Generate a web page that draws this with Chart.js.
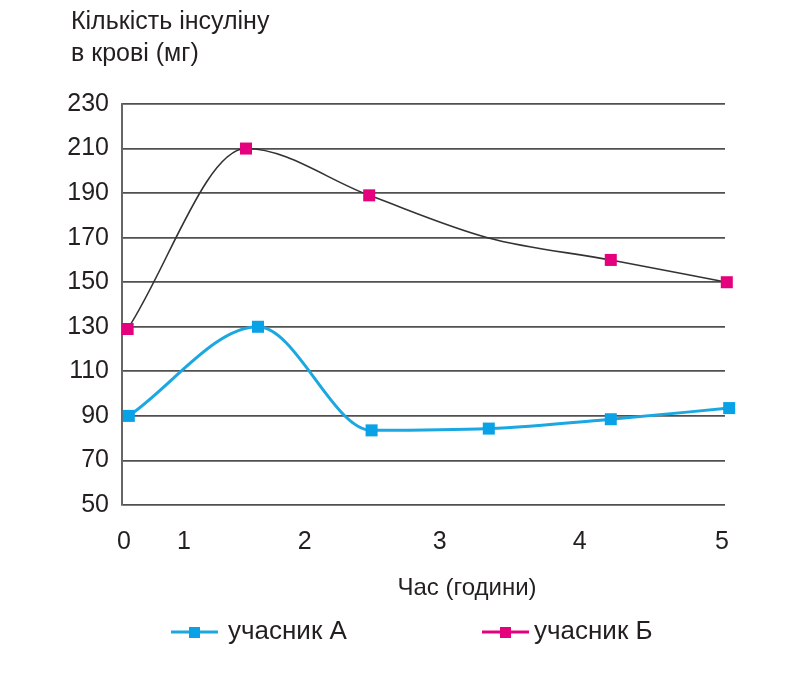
<!DOCTYPE html>
<html>
<head>
<meta charset="utf-8">
<script src="https://cdn.jsdelivr.net/npm/chart.js@4.4.1/dist/chart.umd.min.js"></script>
<style>
  html, body { margin: 0; background: #fff; }
  #wrap { width: 800px; height: 678px; }
</style>
</head>
<body>
<div id="wrap"><canvas id="chart"></canvas></div>
<script>
// values
const hoursA = [0.04, 1.12, 2.07, 3.05, 4.07, 5.06];
const insulinA = [90, 130, 83.5, 84.3, 88.5, 93.5];
const hoursB = [0.03, 1.02, 2.05, 3.04, 4.07, 5.04];
const insulinB = [129, 210, 189, 170, 160, 150];
const markerB = [true, true, true, false, true, true];

const xTickLabels = ['0', '1', '2', '3', '4', '5'];
const xTickAt = [0, 0.5, 1.51, 2.64, 3.81, 5];   // where the labels sit on the original axis

const seriesNames = ['учасник А', 'учасник Б'];
const yTitle = ['Кількість інсуліну', 'в крові (мг)'];
const xTitle = 'Час (години)';

const textColor = '#231f20';
const font = '"Liberation Sans", Arial, sans-serif';

Chart.defaults.font.family = font;
Chart.defaults.color = textColor;

// titles + legend drawn straight on the canvas
const extras = {
    id: 'extras',
    afterDraw(chart) {
        const ctx = chart.ctx;
        const area = chart.chartArea;
        ctx.save();
        ctx.fillStyle = textColor;
        ctx.textBaseline = 'middle';
        ctx.font = '25px ' + font;
        ctx.textAlign = 'left';
        ctx.fillText(yTitle[0], 71, 22);
        ctx.fillText(yTitle[1], 71, 54);

        ctx.font = '24px ' + font;
        ctx.textAlign = 'center';
        ctx.fillText(xTitle, area.left + 345, area.bottom + 83);

        // legend
        const items = [{ x: 171, gap: 10 }, { x: 482, gap: 5 }];
        const y = area.bottom + 127;
        ctx.font = '26px ' + font;
        ctx.textAlign = 'left';
        chart.data.datasets.forEach((ds, i) => {
            const it = items[i];
            ctx.strokeStyle = ds.legendLine;
            ctx.lineWidth = 3;
            ctx.beginPath();
            ctx.moveTo(it.x, y);
            ctx.lineTo(it.x + 47, y);
            ctx.stroke();
            ctx.fillStyle = ds.pointBackgroundColor;
            ctx.fillRect(it.x + 18, y - 5, 11, 11);
            ctx.fillStyle = textColor;
            ctx.fillText(seriesNames[i], it.x + 47 + it.gap, y);
        });
        ctx.restore();
    }
};

const ctx = document.getElementById('chart').getContext('2d');

const myChart = new Chart(ctx, {
    type: 'line',
    data: {
        datasets: [
            {
                label: seriesNames[0],
                data: hoursA.map((h, i) => ({ x: h, y: insulinA[i] })),
                borderColor: '#1ba8e0',
                borderWidth: 3,
                legendLine: '#1ba8e0',
                pointStyle: 'rect',
                pointRadius: 8.5,
                pointBackgroundColor: '#0aa2e6',
                pointBorderColor: '#0aa2e6',
                pointBorderWidth: 0,
                cubicInterpolationMode: 'monotone',
                clip: false
            },
            {
                label: seriesNames[1],
                data: hoursB.map((h, i) => ({ x: h, y: insulinB[i] })),
                borderColor: '#333333',
                borderWidth: 1.6,
                legendLine: '#e5007e',
                pointStyle: 'rect',
                pointRadius: markerB.map(m => m ? 8.5 : 0),
                pointBackgroundColor: '#e5007e',
                pointBorderColor: '#e5007e',
                pointBorderWidth: 0,
                cubicInterpolationMode: 'monotone',
                clip: false
            }
        ]
    },
    options: {
        responsive: true,
        maintainAspectRatio: false,
        animation: false,
        layout: { padding: { top: 104, right: 75, bottom: 123, left: 0 } },
        scales: {
            x: {
                type: 'linear',
                min: -0.017,
                max: 5.025,
                afterBuildTicks: s => { s.ticks = xTickAt.map(v => ({ value: v })); },
                afterFit: s => { s.height = 50; },
                grid: { display: false },
                border: { display: false },
                ticks: {
                    autoSkip: false,
                    maxRotation: 0,
                    padding: 14,
                    font: { size: 25 },
                    callback: (v, i) => xTickLabels[i]
                }
            },
            y: {
                min: 50,
                max: 230,
                afterFit: s => { s.width = 122; },
                ticks: { stepSize: 20, padding: 13, font: { size: 25 } },
                grid: { color: '#505050', lineWidth: 1.7, drawTicks: false },
                border: { display: true, color: '#666666', width: 2 }
            }
        },
        plugins: {
            legend: { display: false },
            tooltip: { enabled: false }
        }
    },
    plugins: [extras]
});
</script>
</body>
</html>
